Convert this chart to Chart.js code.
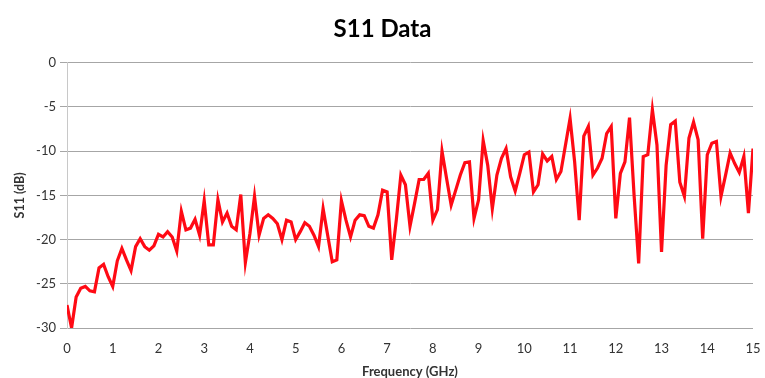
<!DOCTYPE html>
<html>
<head>
<meta charset="utf-8">
<script src="https://cdn.jsdelivr.net/npm/chart.js@4/dist/chart.umd.min.js"></script>
<style>
  html, body { margin: 0; padding: 0; background: #fff; }
  #wrap { width: 765px; height: 378px; position: relative; }
</style>
</head>
<body>
<div id="wrap"><canvas id="chart"></canvas></div>
<script>
// Frequency grid (GHz): start and step of the sweep
const FREQ_START = 0
const FREQ_STEP = 0.1

// S11 (dB), one value per frequency step
const s11 = [
  -27.4, -30.0, -26.5, -25.5, -25.3, -25.8, -25.9, -23.2, -22.8, -24.2,
  -25.3, -22.4, -21.0, -22.3, -23.5, -20.8, -19.9, -20.8, -21.2, -20.7,
  -19.4, -19.7, -19.1, -19.7, -21.3, -16.8, -18.9, -18.7, -17.7, -19.5,
  -15.6, -20.6, -20.6, -15.5, -18.0, -17.0, -18.5, -18.9, -14.9, -22.6,
  -19.3, -15.1, -19.5, -17.6, -17.2, -17.6, -18.2, -20.0, -17.8, -18.0,
  -20.0, -19.1, -18.1, -18.5, -19.5, -20.8, -16.5, -19.5, -22.5, -22.3,
  -15.6, -17.8, -19.7, -17.8, -17.2, -17.3, -18.5, -18.7, -17.2, -14.4,
  -14.6, -22.3, -17.8, -12.7, -13.8, -18.5, -15.9, -13.2, -13.2, -12.5,
  -17.8, -16.6, -10.0, -13.1, -16.1, -14.4, -12.7, -11.3, -11.2, -17.6,
  -15.5, -8.8, -11.6, -16.5, -12.7, -10.8, -9.7, -12.9, -14.5, -12.5,
  -10.4, -10.1, -14.6, -13.8, -10.3, -11.1, -10.6, -13.2, -12.3, -9.3,
  -6.3, -11.2, -17.8, -8.3, -7.2, -12.7, -11.9, -10.8, -8.0, -7.2,
  -17.6, -12.5, -11.2, -6.2, -15.0, -22.7, -10.6, -10.4, -5.3, -9.3,
  -21.4, -11.6, -7.0, -6.6, -13.5, -15.1, -8.5, -6.7, -8.7, -19.9,
  -10.4, -9.1, -8.9, -15.1, -12.7, -10.2, -11.4, -12.4, -10.6, -17.0,
  -9.7
]

// Axis ranges and tick steps
const X_RANGE = [0, 15]
const X_STEP = 1
const Y_RANGE = [-30, 0]
const Y_STEP = 5

const FONT = 'Lato, "Open Sans", sans-serif'

const points = s11.map((v, i) => ({ x: FREQ_START + i * FREQ_STEP, y: v }))

new Chart(document.getElementById('chart'), {
  type: 'line',
  data: {
    datasets: [{
      label: 'S11',
      data: points,
      borderColor: '#ff0a14',
      borderWidth: 3.2,
      pointRadius: 0,
      tension: 0,
      fill: false
    }]
  },
  options: {
    responsive: true,
    maintainAspectRatio: false,
    animation: false,
    // left padding 12 + y axis 55 puts the plot at x=67, and centres the title
    layout: { padding: { left: 12, right: 12, top: 0, bottom: 0 } },
    plugins: {
      legend: { display: false },
      tooltip: { enabled: false },
      title: {
        display: true,
        text: 'S11 Data',
        color: '#000',
        font: { family: FONT, size: 24, weight: 'bold', lineHeight: 1.2 },
        padding: { top: 15, bottom: 19 }
      }
    },
    scales: {
      x: {
        type: 'linear',
        min: X_RANGE[0],
        max: X_RANGE[1],
        grid: { display: false, drawTicks: false },
        border: { display: false },
        ticks: {
          stepSize: X_STEP,
          padding: 13,
          color: '#333',
          font: { family: FONT, size: 13 },
          maxRotation: 0
        },
        title: {
          display: true,
          text: 'Frequency (GHz)',
          color: '#333',
          font: { family: FONT, size: 13, weight: 'bold', lineHeight: 1 },
          padding: { top: 0, bottom: 0 }
        },
        afterFit: (scale) => {
          scale.height = 50
          // keep the tick padding from widening the side margins
          scale.paddingLeft = 0
          scale.paddingRight = 0
        }
      },
      y: {
        min: Y_RANGE[0],
        max: Y_RANGE[1],
        grid: {
          color: '#a6a6a6',
          lineWidth: 1,
          tickLength: 7,
          drawTicks: true
        },
        border: { display: true, color: '#c8c8c8', width: 1 },
        ticks: {
          stepSize: Y_STEP,
          padding: 4,
          color: '#333',
          font: { family: FONT, size: 13 }
        },
        title: {
          display: true,
          text: 'S11 (dB)',
          color: '#333',
          font: { family: FONT, size: 12.5, weight: 'bold', lineHeight: 1.2 },
          padding: { top: 0, bottom: 0 }
        },
        afterFit: (scale) => { scale.width = 55 }
      }
    }
  }
})
</script>
</body>
</html>
